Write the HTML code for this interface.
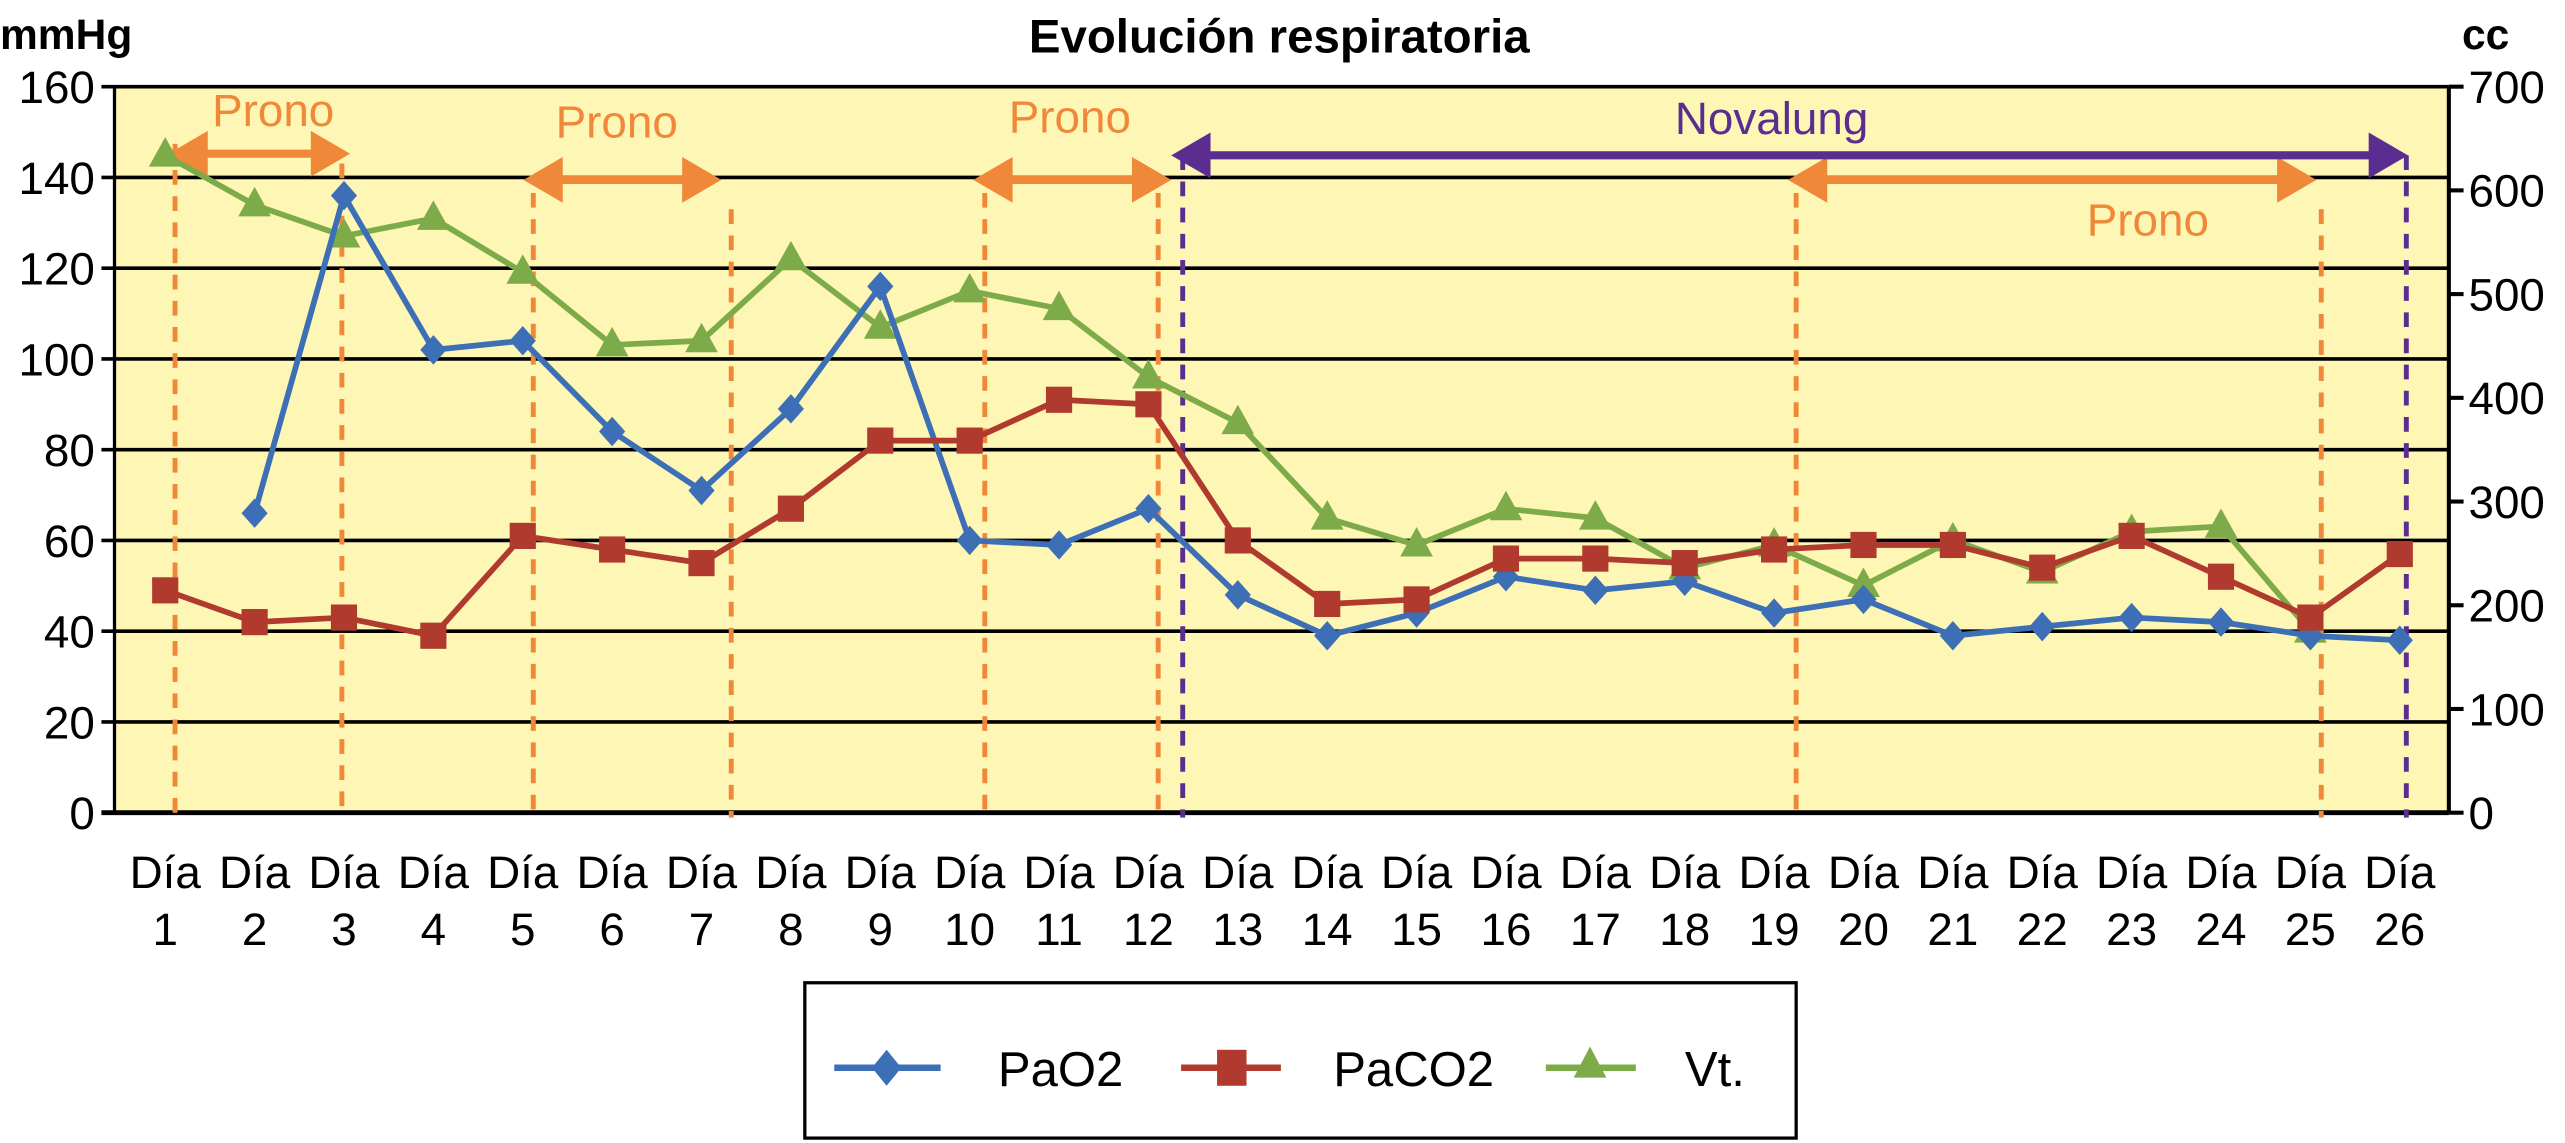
<!DOCTYPE html>
<html><head><meta charset="utf-8"><style>
html,body{margin:0;padding:0;background:#fff;}
svg{display:block;}
text{font-family:"Liberation Sans",Arial,sans-serif;}
</style></head><body>
<svg id="chart" width="2565" height="1143" viewBox="0 0 1568 699" preserveAspectRatio="none" xmlns="http://www.w3.org/2000/svg">
<rect x="70" y="53" width="1427" height="444" fill="#fdf6b4"/>
<g id="grid"></g>
<g id="markers"></g>
<g id="series"></g>
<g id="axes"></g>
<text x="782" y="32" font-size="29" font-weight="bold" text-anchor="middle">Evolución respiratoria</text>
<text x="0" y="30" font-size="26" font-weight="bold">mmHg</text>
<text x="1505" y="30" font-size="26" font-weight="bold">cc</text>
<g>
<rect x="492" y="601" width="606" height="95" fill="#fff" stroke="#000" stroke-width="2"/>
<g>
<line x1="510" y1="653" x2="575" y2="653" stroke="#3d6fb6" stroke-width="4"/>
<polygon points="542,642 551,653 542,664 533,653" fill="#3d6fb6"/>
<text x="610" y="664" font-size="30">PaO2</text></g>
<g>
<line x1="722" y1="653" x2="783" y2="653" stroke="#b03a2e" stroke-width="4"/>
<rect x="744" y="642" width="18" height="22" fill="#b03a2e"/>
<text x="815" y="664" font-size="30">PaCO2</text></g>
<g>
<line x1="945" y1="653" x2="1000" y2="653" stroke="#7dab4a" stroke-width="4"/>
<polygon points="972,640 982,659 962,659" fill="#7dab4a"/>
<text x="1030" y="664" font-size="30">Vt.</text></g>
</g>
</svg>
<script>
const days = ["1","2","3","4","5","6","7","8","9","10","11","12","13","14","15","16","17","18","19","20","21","22","23","24","25","26"];
const pao2 = [null,66,136,102,104,84,71,89,116,60,59,67,48,39,44,52,49,51,44,47,39,41,43,42,39,38];
const paco2 = [49,42,43,39,61,58,55,67,82,82,91,90,60,46,47,56,56,55,58,59,59,54,61,52,43,57];
const vt = [634,586,556,573,521,451,455,534,468,503,486,420,376,284,258,293,284,236,258,219,263,232,271,276,175,null];
const leftTicks = [0,20,40,60,80,100,120,140,160];
const rightTicks = [0,100,200,300,400,500,600,700];

const NS="http://www.w3.org/2000/svg";
const L=70,R=1497,T=53,B=497;
const X0=101,X1=1467;
const x=i=>X0+i*(X1-X0)/(days.length-1);
const yL=v=>B-(v/160)*(B-T);
const yR=v=>B-(v/700)*(B-T);
function mk(tag,attrs,parent){const e=document.createElementNS(NS,tag);for(const k in attrs)e.setAttribute(k,attrs[k]);document.getElementById(parent).appendChild(e);return e;}

leftTicks.forEach(t=>{
  const g=mk('line',{x1:L-8,x2:R,y1:yL(t),y2:yL(t),stroke:'#000','stroke-width':t===0?3:2.2},'grid');
  
  
  const tx=mk('text',{x:L-12,y:yL(t)+10,'font-size':28,'text-anchor':'end'},'axes');
  tx.textContent=t;
  
  
});
const ax=mk('line',{x1:L,x2:L,y1:T,y2:B,stroke:'#000','stroke-width':2},'axes');


const ax2=mk('line',{x1:R,x2:R,y1:T,y2:B,stroke:'#000','stroke-width':2.5},'axes');


rightTicks.forEach(t=>{
  const tk=mk('line',{x1:R,x2:R+9,y1:yR(t),y2:yR(t),stroke:'#000','stroke-width':2.5},'axes');
  
  
  const tx=mk('text',{x:R+12,y:yR(t)+10,'font-size':28},'axes');
  tx.textContent=t;
  
  
});
days.forEach((d,i)=>{
  const tx=mk('text',{x:x(i),y:543,'font-size':28,'text-anchor':'middle'},'axes');
  tx.textContent='Día';
  
  
  const tn=mk('text',{x:x(i),y:578,'font-size':28,'text-anchor':'middle'},'axes');
  tn.textContent=d;
  
  
});

function vline(xx,top,color,name){
  const e=mk('line',{x1:xx,x2:xx,y1:top,y2:B+3,stroke:color,'stroke-width':3,'stroke-dasharray':'9,7'},'markers');
  
  
}
function darrow(x1,x2,y,color,name){
  const g=mk('g',{},'markers');
  
  
  const l=document.createElementNS(NS,'line');
  [['x1',x1+18],['x2',x2-18],['y1',y],['y2',y],['stroke',color],['stroke-width',5]].forEach(a=>l.setAttribute(a[0],a[1]));g.appendChild(l);
  const p1=document.createElementNS(NS,'polygon');p1.setAttribute('points',`${x1},${y} ${x1+24},${y-14} ${x1+24},${y+14}`);p1.setAttribute('fill',color);g.appendChild(p1);
  const p2=document.createElementNS(NS,'polygon');p2.setAttribute('points',`${x2},${y} ${x2-24},${y-14} ${x2-24},${y+14}`);p2.setAttribute('fill',color);g.appendChild(p2);
}
function lbl(tx,xx,yy,color,name){
  const e=mk('text',{x:xx,y:yy,'font-size':28,fill:color,'text-anchor':'middle'},'markers');
  e.textContent=tx;
  
  
}
const OR='#f0883a',PU='#5b2d91';
vline(107,88,OR,'prono-start-line-1');vline(209,100,OR,'prono-end-line-1');
vline(326,118,OR,'prono-start-line-2');vline(447,128,OR,'prono-end-line-2');
vline(602,118,OR,'prono-start-line-3');vline(708,118,OR,'prono-end-line-3');
vline(1098,118,OR,'prono-start-line-4');vline(1419,128,OR,'prono-end-line-4');
vline(723,95,PU,'novalung-start-line');vline(1471,95,PU,'novalung-end-line');
darrow(103,214,94,OR,'prono-arrow-1');lbl('Prono',167,77,OR,'prono-label-1');
darrow(320,441,110,OR,'prono-arrow-2');lbl('Prono',377,84,OR,'prono-label-2');
darrow(595,716,110,OR,'prono-arrow-3');lbl('Prono',654,81,OR,'prono-label-3');
darrow(1093,1416,110,OR,'prono-arrow-4');lbl('Prono',1313,144,OR,'prono-label-4');
darrow(716,1472,95,PU,'novalung-arrow');lbl('Novalung',1083,82,PU,'novalung-label');

function series(vals,yf,color,shape,name){
  let d='';let pen=false;
  vals.forEach((v,i)=>{if(v==null){pen=false;return;}d+=(pen?'L':'M')+x(i)+','+yf(v)+' ';pen=true;});
  const p=mk('path',{d:d,fill:'none',stroke:color,'stroke-width':3.5,'stroke-linejoin':'round'},'series');
  
  
  vals.forEach((v,i)=>{
    if(v==null)return;
    const cx=x(i),cy=yf(v);let m;
    if(shape==='diamond')m=mk('polygon',{points:`${cx},${cy-9} ${cx+8},${cy} ${cx},${cy+9} ${cx-8},${cy}`,fill:color},'series');
    else if(shape==='square')m=mk('rect',{x:cx-8,y:cy-8,width:16,height:16,fill:color},'series');
    else m=mk('polygon',{points:`${cx},${cy-11} ${cx+10},${cy+7} ${cx-10},${cy+7}`,fill:color},'series');
    
    
  });
}
series(vt,yR,'#7dab4a','triangle','vt');
series(pao2,yL,'#3d6fb6','diamond','pao2');
series(paco2,yL,'#b03a2e','square','paco2');
</script>
</body></html>
